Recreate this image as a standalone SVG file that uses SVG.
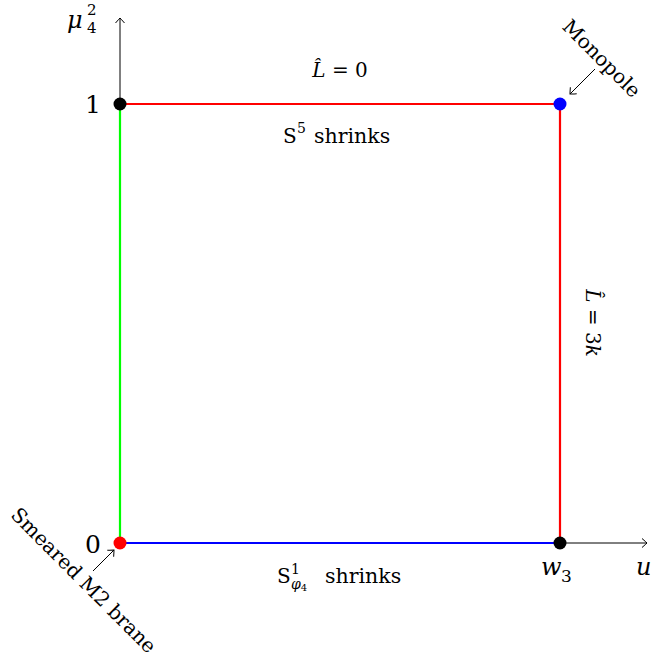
<svg xmlns="http://www.w3.org/2000/svg" width="653" height="665" viewBox="0 0 653 665">
<defs>
<marker id="arr" viewBox="-6 -6 8 12" markerWidth="8" markerHeight="12" refX="0" refY="0" orient="auto" markerUnits="userSpaceOnUse">
<path d="M-5,-4.5 Q-1,-1 0,0 Q-1,1 -5,4.5" fill="none" stroke="#000" stroke-width="1"/>
</marker>
<style>
.ax{stroke:#000;stroke-width:1;fill:none}
.ed{stroke-width:2.2;fill:none}
.m{font-style:italic}
</style>
</defs>
<rect width="653" height="665" fill="#fff"/>
<g id="connectors">
<path class="ax" d="M120,104 V18" marker-end="url(#arr)"/>
<path class="ax" d="M560,543 H647" marker-end="url(#arr)"/>
<path class="ed" stroke="#00ff00" d="M120,543 V104"/>
<path class="ed" stroke="#ff0000" d="M120,104 H560"/>
<path class="ed" stroke="#ff0000" d="M560,104 V543"/>
<path class="ed" stroke="#0000ff" d="M120,543 H560"/>
<path class="ax" d="M595,69 L570,94" marker-end="url(#arr)"/>
<path class="ax" d="M93,571 L114,550" marker-end="url(#arr)"/>
</g>
<g id="n-origin"><circle cx="120" cy="543" r="6.5" fill="#ff0000"/></g>
<g id="n-top-left"><circle cx="120" cy="104" r="6.5" fill="#000"/></g>
<g id="n-top-right"><circle cx="560" cy="104" r="6.5" fill="#0000ff"/></g>
<g id="n-bottom-right"><circle cx="560" cy="543" r="6.5" fill="#000"/></g>
<g id="labels" font-family="'DejaVu Serif', 'Liberation Serif', serif" fill="#000">
<text x="67" y="28" font-size="24" class="m">μ</text>
<text x="87" y="15" font-size="15">2</text>
<text x="87" y="33" font-size="15">4</text>
<text x="93" y="113" font-size="25" text-anchor="middle">1</text>
<text x="93" y="553" font-size="25" text-anchor="middle">0</text>
<text x="541" y="575" font-size="24" class="m">w</text>
<text x="561" y="582" font-size="17">3</text>
<text x="636" y="575" font-size="24" class="m">u</text>
<text x="340" y="77" font-size="20" text-anchor="middle"><tspan class="m">L̂</tspan> = 0</text>
<text x="283" y="143" font-size="20">S</text>
<text x="297" y="133" font-size="14">5</text>
<text x="314" y="143" font-size="20.5">shrinks</text>
<text x="277" y="583" font-size="20">S</text>
<text x="291" y="574" font-size="14">1</text>
<text x="291" y="589" font-size="14" class="m">φ<tspan font-size="10" font-style="normal" dy="2">4</tspan></text>
<text x="325" y="583" font-size="20.5">shrinks</text>
<text transform="translate(593,323) rotate(90)" x="0" y="7" font-size="20" text-anchor="middle"><tspan class="m">L̂</tspan> = 3<tspan class="m">k</tspan></text>
<text transform="translate(601,59) rotate(45)" x="0" y="6" font-size="20" text-anchor="middle">Monopole</text>
<text transform="translate(83,581) rotate(45)" x="0" y="6" font-size="20" text-anchor="middle">Smeared M2 brane</text>
</g>
</svg>
